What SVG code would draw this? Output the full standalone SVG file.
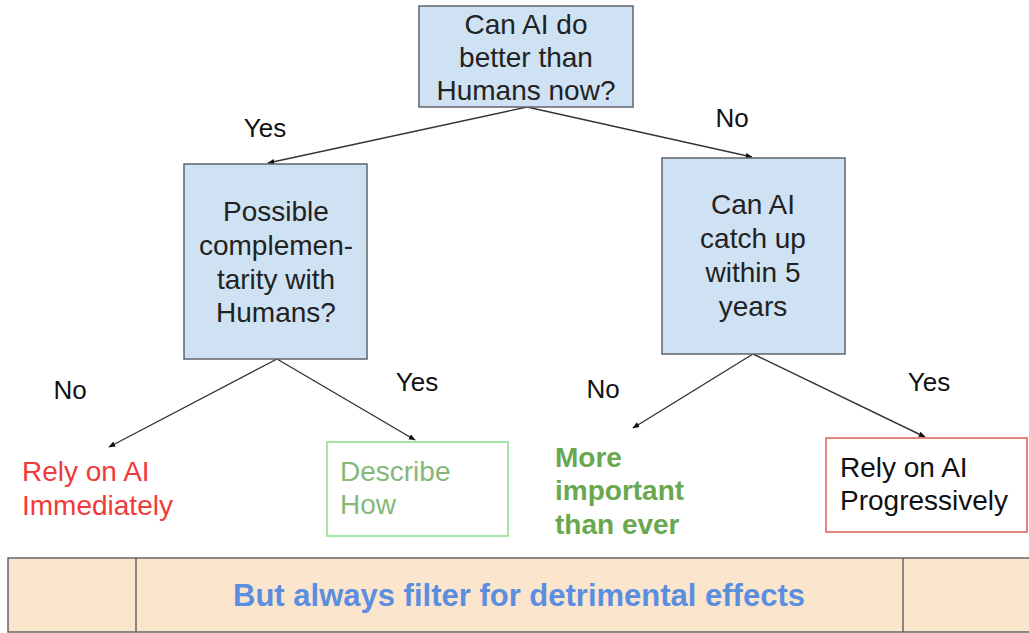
<svg xmlns="http://www.w3.org/2000/svg" width="1029" height="633" viewBox="0 0 1029 633">
<style>
.q{fill:#cfe2f3;stroke:#5f6368;stroke-width:1.5}
.t{font-family:"Liberation Sans",Arial,sans-serif;font-size:28px;fill:#222}
.c{text-anchor:middle}
.lbl{font-family:"Liberation Sans",Arial,sans-serif;font-size:26px;fill:#111;text-anchor:middle}
.e{stroke:#333;stroke-width:1.4;fill:none;marker-end:url(#ah)}
</style>
<defs>
<marker id="ah" viewBox="0 0 10 10" refX="9" refY="5" markerWidth="7" markerHeight="7" markerUnits="userSpaceOnUse" orient="auto">
<path d="M0,1 L10,5 L0,9 z" fill="#111"/>
</marker>
</defs>
<rect width="1029" height="633" fill="#fff"/>
<g id="connectors">
<line class="e" x1="527" y1="107" x2="268" y2="163"/>
<line class="e" x1="527" y1="107" x2="752" y2="157"/>
<line class="e" x1="277" y1="359" x2="109" y2="447"/>
<line class="e" x1="277" y1="359" x2="415" y2="440"/>
<line class="e" x1="753" y1="354" x2="633" y2="428"/>
<line class="e" x1="753" y1="354" x2="925" y2="437"/>
<text class="lbl" x="265" y="137">Yes</text>
<text class="lbl" x="732" y="127">No</text>
<text class="lbl" x="70" y="399">No</text>
<text class="lbl" x="417" y="391">Yes</text>
<text class="lbl" x="603" y="398">No</text>
<text class="lbl" x="929" y="391">Yes</text>
</g>
<g id="q1">
<rect class="q" x="419" y="6" width="214" height="101"/>
<text class="t c" x="526" y="34">Can AI do</text>
<text class="t c" x="526" y="67">better than</text>
<text class="t c" x="526" y="100">Humans now?</text>
</g>
<g id="q2">
<rect class="q" x="184" y="164" width="183" height="195"/>
<text class="t c" x="276" y="221">Possible</text>
<text class="t c" x="276" y="255">complemen-</text>
<text class="t c" x="276" y="289">tarity with</text>
<text class="t c" x="276" y="322">Humans?</text>
</g>
<g id="q3">
<rect class="q" x="662" y="158" width="183" height="196"/>
<text class="t c" x="753" y="214">Can AI</text>
<text class="t c" x="753" y="248">catch up</text>
<text class="t c" x="753" y="282">within 5</text>
<text class="t c" x="753" y="316">years</text>
</g>
<g id="immediately">
<text class="t" x="22" y="481" style="fill:#f23a3a">Rely on AI</text>
<text class="t" x="22" y="515" style="fill:#f23a3a">Immediately</text>
</g>
<g id="describe">
<rect x="327" y="442" width="181" height="94" fill="#fff" stroke="#8ee08e" stroke-width="1.6"/>
<text class="t" x="340" y="481" style="fill:#86b878">Describe</text>
<text class="t" x="340" y="514" style="fill:#86b878">How</text>
</g>
<g id="important">
<text class="t" x="555" y="467" style="fill:#6aa84f;font-weight:bold">More</text>
<text class="t" x="555" y="500" style="fill:#6aa84f;font-weight:bold">important</text>
<text class="t" x="555" y="534" style="fill:#6aa84f;font-weight:bold">than ever</text>
</g>
<g id="progressively">
<rect x="826" y="438" width="201" height="94" fill="#fff" stroke="#e06666" stroke-width="1.6"/>
<text class="t" x="840" y="477" style="fill:#111">Rely on AI</text>
<text class="t" x="840" y="510" style="fill:#111">Progressively</text>
</g>
<g id="filter">
<rect x="8" y="558" width="1030" height="74" fill="#fce5cd" stroke="#666" stroke-width="1.5"/>
<line x1="136" y1="558" x2="136" y2="632" stroke="#666" stroke-width="1.5"/>
<line x1="903" y1="558" x2="903" y2="632" stroke="#666" stroke-width="1.5"/>
<text x="519" y="606" text-anchor="middle" style="font-family:'Liberation Sans',Arial,sans-serif;font-size:31px;font-weight:bold;fill:#5b8ee0">But always filter for detrimental effects</text>
</g>
</svg>
